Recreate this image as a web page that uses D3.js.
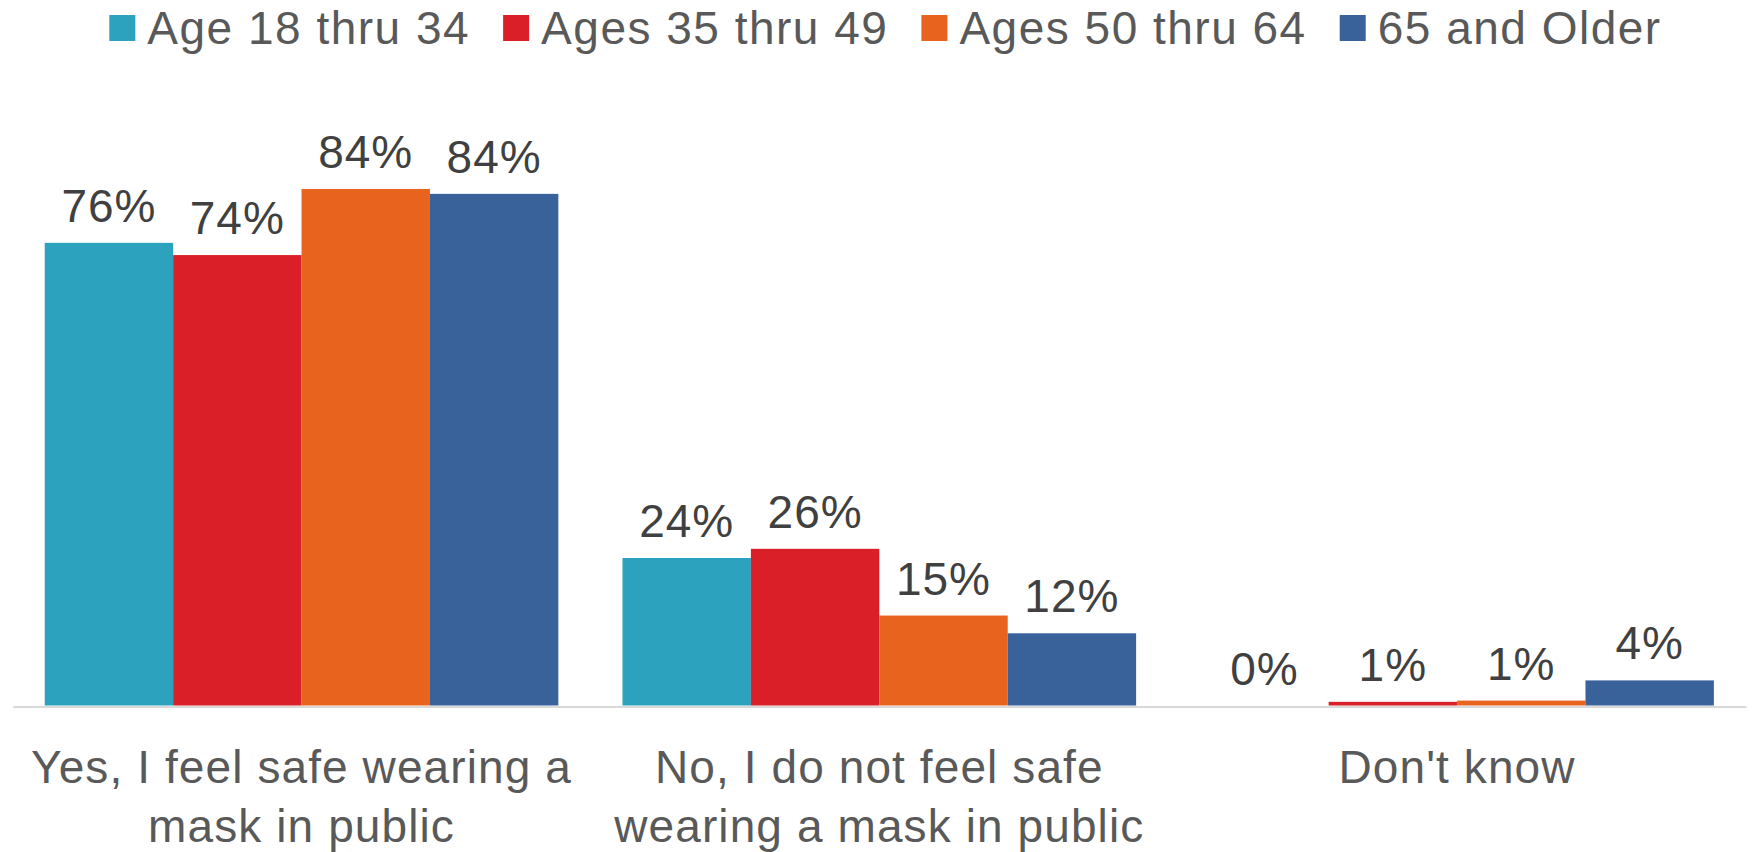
<!DOCTYPE html>
<html>
<head>
<meta charset="utf-8">
<script src="https://cdn.jsdelivr.net/npm/d3@7"></script>
<style>
  html, body { margin: 0; padding: 0; background: #ffffff; }
  svg { display: block; }
  text { font-family: "Liberation Sans", Arial, sans-serif; }
</style>
</head>
<body>
<svg id="chart" width="1754" height="852"></svg>
<script>
// ---- data ----
const categories = [
  "Yes, I feel safe wearing a\nmask in public",
  "No, I do not feel safe\nwearing a mask in public",
  "Don't know"
];
const seriesNames = ["Age 18 thru 34", "Ages 35 thru 49", "Ages 50 thru 64", "65 and Older"];
const seriesColors = ["#2ca2bf", "#da1f28", "#e8641e", "#39629b"];
const age18to34 = [0.756, 0.241, 0.000];
const age35to49 = [0.736, 0.256, 0.006];
const age50to64 = [0.844, 0.147, 0.008];
const age65plus = [0.836, 0.118, 0.041];
const seriesValues = [age18to34, age35to49, age50to64, age65plus];

// ---- layout ----
const plotLeft = 12.6, plotRight = 1746;
const baseY = 705.5, pxPerUnit = 612; // 100% -> 612 px
const fontSize = 46;
const svg = d3.select("#chart");

const x0 = d3.scaleBand().domain(categories).range([plotLeft, plotRight])
  .paddingInner(0.111).paddingOuter(0.0556);
const x1 = d3.scaleBand().domain(seriesNames).range([0, x0.bandwidth()]).padding(0);
const y = d3.scaleLinear().domain([0, 1]).range([baseY, baseY - pxPerUnit]);
const color = d3.scaleOrdinal().domain(seriesNames).range(seriesColors);
const fmt = d3.format(".0%");

const rows = [];
categories.forEach((c, ci) => {
  seriesNames.forEach((s, si) => rows.push({cat: c, series: s, value: seriesValues[si][ci]}));
});

// bars
svg.append("g").selectAll("rect").data(rows).join("rect")
  .attr("x", d => x0(d.cat) + x1(d.series))
  .attr("y", d => y(d.value))
  .attr("width", x1.bandwidth())
  .attr("height", d => y(0) - y(d.value))
  .attr("fill", d => color(d.series));

// axis line
const xAxis = d3.axisBottom(x0).tickSize(0).tickFormat("");
const axG = svg.append("g").attr("transform", `translate(0,${baseY + 1})`).call(xAxis);
axG.select(".domain").attr("stroke", "#d9d9d9").attr("stroke-width", 2.2);

// data labels
svg.append("g").selectAll("text").data(rows).join("text")
  .attr("x", d => x0(d.cat) + x1(d.series) + x1.bandwidth() / 2)
  .attr("y", d => y(d.value) - 21)
  .attr("text-anchor", "middle")
  .attr("font-size", fontSize)
  .attr("letter-spacing", 1)
  .attr("fill", "#404040")
  .text(d => fmt(d.value));

// category labels
const catG = svg.append("g");
categories.forEach(c => {
  const lines = c.split("\n");
  const cxp = x0(c) + x0.bandwidth() / 2;
  const t = catG.append("text")
    .attr("text-anchor", "middle")
    .attr("font-size", fontSize)
    .attr("letter-spacing", 1.1)
    .attr("fill", "#595959");
  lines.forEach((ln, i) => {
    t.append("tspan").attr("x", cxp).attr("y", 783 + i * 58.5).text(ln);
  });
});

// legend
const legG = svg.append("g");
const sq = 26, gapSqText = 12, gapItem = 33;
const items = seriesNames.map(s => {
  const g = legG.append("g");
  g.append("rect").attr("width", sq).attr("height", sq).attr("y", 15).attr("fill", color(s));
  const t = g.append("text").attr("x", sq + gapSqText).attr("y", 43.5)
    .attr("font-size", fontSize).attr("letter-spacing", 1.5)
    .attr("fill", "#595959").text(s);
  const w = sq + gapSqText + t.node().getComputedTextLength();
  return {g, w};
});
const totalW = d3.sum(items, d => d.w) + gapItem * (items.length - 1);
let cx = 885.5 - totalW / 2;
items.forEach(it => {
  it.g.attr("transform", `translate(${cx},0)`);
  cx += it.w + gapItem;
});
</script>
</body>
</html>
